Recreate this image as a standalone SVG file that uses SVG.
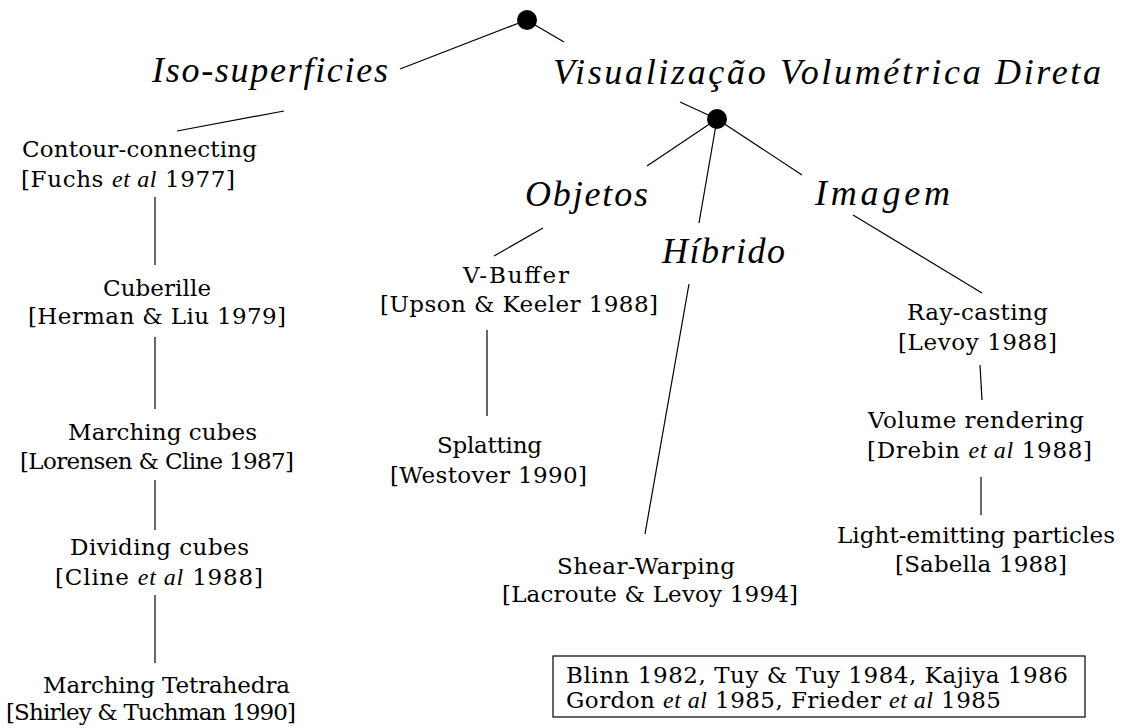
<svg xmlns="http://www.w3.org/2000/svg" width="1122" height="728" viewBox="0 0 1122 728">
  <style>
    .bg { fill: #ffffff; }
    .edge { stroke: #000000; stroke-width: 1.2; fill: none; }
    .dot { fill: #000000; }
    text { font-family: "DejaVu Serif", "Liberation Serif", serif; fill: #000000; }
    .cat { font-family: "Liberation Serif", "DejaVu Serif", serif; font-style: italic; font-size: 36px; }
    .ref { font-size: 23px; }
    .it { font-family: "Liberation Serif", "DejaVu Serif", serif; font-style: italic; font-size: 24px; }
    .frame { fill: none; stroke: #000000; stroke-width: 1.2; }
  </style>
  <rect class="bg" x="0" y="0" width="1122" height="728"/>

  <!-- connectors -->
  <g id="connectors">
    <line class="edge" x1="400" y1="69" x2="519" y2="23"/>
    <line class="edge" x1="535" y1="25" x2="564" y2="42"/>
    <line class="edge" x1="284" y1="111" x2="177" y2="131"/>
    <line class="edge" x1="155" y1="197" x2="155" y2="265"/>
    <line class="edge" x1="155" y1="337" x2="155" y2="409"/>
    <line class="edge" x1="155" y1="480" x2="155" y2="530"/>
    <line class="edge" x1="155" y1="595" x2="155" y2="663"/>
    <line class="edge" x1="680" y1="102" x2="717" y2="119"/>
    <line class="edge" x1="717" y1="119" x2="647" y2="166"/>
    <line class="edge" x1="717" y1="119" x2="699" y2="223"/>
    <line class="edge" x1="717" y1="119" x2="802" y2="175"/>
    <line class="edge" x1="543" y1="228" x2="494" y2="256"/>
    <line class="edge" x1="487" y1="330" x2="487" y2="416"/>
    <line class="edge" x1="689" y1="284" x2="645" y2="534"/>
    <line class="edge" x1="853" y1="215" x2="982" y2="293"/>
    <line class="edge" x1="980" y1="365" x2="982" y2="400"/>
    <line class="edge" x1="981" y1="477" x2="981" y2="515"/>
  </g>

  <!-- branch points -->
  <g id="root-dot"><circle class="dot" cx="527" cy="20" r="10"/></g>
  <g id="dvr-dot"><circle class="dot" cx="717" cy="119" r="10"/></g>

  <!-- categories -->
  <g id="iso-superficies">
    <text class="cat" x="152" y="82" textLength="236" lengthAdjust="spacing">Iso-superficies</text>
  </g>
  <g id="visualizacao-volumetrica-direta">
    <text class="cat" x="553" y="84" textLength="548" lengthAdjust="spacing">Visualização Volumétrica Direta</text>
  </g>
  <g id="objetos">
    <text class="cat" x="525" y="206" textLength="123" lengthAdjust="spacing">Objetos</text>
  </g>
  <g id="hibrido">
    <text class="cat" x="662" y="263" textLength="123" lengthAdjust="spacing">Híbrido</text>
  </g>
  <g id="imagem">
    <text class="cat" x="815" y="205" textLength="135" lengthAdjust="spacing">Imagem</text>
  </g>

  <!-- surface methods -->
  <g id="contour-connecting">
    <text class="ref" x="22" y="157" textLength="235" lengthAdjust="spacing">Contour-connecting</text>
    <text class="ref" x="21" y="187" textLength="214" lengthAdjust="spacing">[Fuchs <tspan class="it">et al</tspan> 1977]</text>
  </g>
  <g id="cuberille">
    <text class="ref" x="103" y="296" textLength="108" lengthAdjust="spacing">Cuberille</text>
    <text class="ref" x="28" y="324" textLength="258" lengthAdjust="spacing">[Herman &amp; Liu 1979]</text>
  </g>
  <g id="marching-cubes">
    <text class="ref" x="68" y="440" textLength="189" lengthAdjust="spacing">Marching cubes</text>
    <text class="ref" x="20" y="469" textLength="274" lengthAdjust="spacing">[Lorensen &amp; Cline 1987]</text>
  </g>
  <g id="dividing-cubes">
    <text class="ref" x="70" y="555" textLength="179" lengthAdjust="spacing">Dividing cubes</text>
    <text class="ref" x="55" y="585" textLength="208" lengthAdjust="spacing">[Cline <tspan class="it">et al</tspan> 1988]</text>
  </g>
  <g id="marching-tetrahedra">
    <text class="ref" x="43" y="693" textLength="247" lengthAdjust="spacing">Marching Tetrahedra</text>
    <text class="ref" x="6" y="720" textLength="290" lengthAdjust="spacing">[Shirley &amp; Tuchman 1990]</text>
  </g>

  <!-- object-order methods -->
  <g id="v-buffer">
    <text class="ref" x="463" y="283" textLength="106" lengthAdjust="spacing">V-Buffer</text>
    <text class="ref" x="380" y="312" textLength="278" lengthAdjust="spacing">[Upson &amp; Keeler 1988]</text>
  </g>
  <g id="splatting">
    <text class="ref" x="437" y="453" textLength="105" lengthAdjust="spacing">Splatting</text>
    <text class="ref" x="390" y="483" textLength="197" lengthAdjust="spacing">[Westover 1990]</text>
  </g>

  <!-- hybrid -->
  <g id="shear-warping">
    <text class="ref" x="557" y="574" textLength="178" lengthAdjust="spacing">Shear-Warping</text>
    <text class="ref" x="502" y="602" textLength="296" lengthAdjust="spacing">[Lacroute &amp; Levoy 1994]</text>
  </g>

  <!-- image-order methods -->
  <g id="ray-casting">
    <text class="ref" x="907" y="320" textLength="141" lengthAdjust="spacing">Ray-casting</text>
    <text class="ref" x="898" y="350" textLength="159" lengthAdjust="spacing">[Levoy 1988]</text>
  </g>
  <g id="volume-rendering">
    <text class="ref" x="868" y="428" textLength="216" lengthAdjust="spacing">Volume rendering</text>
    <text class="ref" x="867" y="458" textLength="225" lengthAdjust="spacing">[Drebin <tspan class="it">et al</tspan> 1988]</text>
  </g>
  <g id="light-emitting-particles">
    <text class="ref" x="837" y="543" textLength="278" lengthAdjust="spacing">Light-emitting particles</text>
    <text class="ref" x="895" y="572" textLength="172" lengthAdjust="spacing">[Sabella 1988]</text>
  </g>

  <!-- general references -->
  <g id="general-references">
    <rect class="frame" x="553" y="656" width="532" height="61"/>
    <text class="ref" x="566" y="683" textLength="502" lengthAdjust="spacing">Blinn 1982, Tuy &amp; Tuy 1984, Kajiya 1986</text>
    <text class="ref" x="566" y="708" textLength="435" lengthAdjust="spacing">Gordon <tspan class="it">et al</tspan> 1985, Frieder <tspan class="it">et al</tspan> 1985</text>
  </g>
</svg>
